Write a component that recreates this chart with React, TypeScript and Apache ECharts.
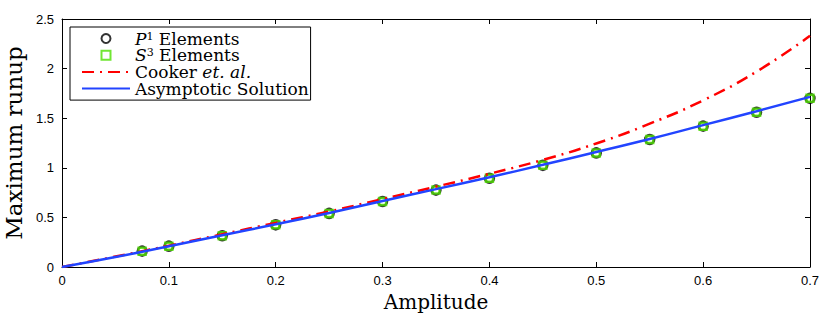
import React, { useEffect, useRef } from "react";
import * as echarts from "echarts";

const markerAmplitude = [0.075, 0.1, 0.15, 0.2, 0.25, 0.3, 0.35, 0.4, 0.45, 0.5, 0.55, 0.6, 0.65, 0.7];
const p1Runup = [0.16, 0.21, 0.315, 0.425, 0.54, 0.66, 0.775, 0.895, 1.025, 1.15, 1.285, 1.42, 1.56, 1.7];
const s3Runup = [0.16, 0.21, 0.315, 0.425, 0.54, 0.66, 0.775, 0.895, 1.025, 1.15, 1.285, 1.42, 1.56, 1.7];

const curveAmplitude = [0, 0.05, 0.1, 0.15, 0.2, 0.25, 0.3, 0.35, 0.4, 0.45, 0.5, 0.55, 0.6, 0.65, 0.7];
const cookerRunup = [0, 0.105, 0.215, 0.33, 0.445, 0.56, 0.685, 0.81, 0.94, 1.08, 1.245, 1.445, 1.68, 1.97, 2.33];
const asymptoticRunup = [0, 0.1, 0.21, 0.32, 0.43, 0.545, 0.665, 0.785, 0.905, 1.03, 1.16, 1.29, 1.43, 1.57, 1.715];

const seriesNames = ["P1 Elements", "S3 Elements", "Cooker et. al.", "Asymptotic Solution"];
const xTitle = "Amplitude";
const yTitle = "Maximum runup";

const zip = (xs: number[], ys: number[]) => xs.map((x, i) => [x, ys[i]]);

const SERIF = "DejaVu Serif";
const SANS = "Liberation Sans, Arial, sans-serif";
const SQUARE = "path://M0,0L10,0L10,10L0,10Z";

export default function App() {
  const ref = useRef<HTMLDivElement>(null);
  useEffect(() => {
    if (!ref.current) return;
    const chart = echarts.init(ref.current, null, { renderer: "svg" });
    const axisCommon = {
      type: "value" as const,
      axisLine: { show: true, onZero: false, lineStyle: { color: "#000", width: 1 } },
      axisTick: { show: true, inside: true, length: 5, lineStyle: { color: "#000", width: 1 } },
      splitLine: { show: false },
    };
    chart.setOption({
      animation: false,
      backgroundColor: "#fff",
      grid: { left: 62, right: 20, top: 19, bottom: 54, containLabel: false, outerBoundsMode: "none" },
      legend: {
        left: 70,
        top: 27,
        orient: "vertical",
        backgroundColor: "#fff",
        borderColor: "#000",
        borderWidth: 1,
        borderRadius: 0,
        padding: [3, 2, 3, 11],
        itemGap: -0.3,
        itemWidth: 48,
        itemHeight: 9,
        symbolKeepAspect: true,
        selectedMode: false,
        data: seriesNames,
        formatter: (name: string) => {
          if (name === seriesNames[0]) return "{it|P}{sup|1}{n| Elements}";
          if (name === seriesNames[1]) return "{it|S}{sup|3}{n| Elements}";
          if (name === seriesNames[2]) return "{n|Cooker}{it| et. al.}";
          return "{n|" + name + "}";
        },
        textStyle: {
          fontFamily: SERIF,
          fontSize: 17,
          color: "#000",
          lineHeight: 16,
          rich: {
            n: { fontFamily: SERIF, fontSize: 17, color: "#000", lineHeight: 16 },
            it: { fontFamily: SERIF, fontSize: 17, fontStyle: "italic", color: "#000", lineHeight: 16 },
            sup: { fontFamily: SERIF, fontSize: 11, color: "#000", lineHeight: 7, verticalAlign: "top" },
          },
        },
      },
      xAxis: [
        {
          ...axisCommon,
          min: 0,
          max: 0.7,
          interval: 0.1,
          position: "bottom",
          name: xTitle,
          nameLocation: "middle",
          nameGap: 25,
          nameTextStyle: { fontFamily: SERIF, fontSize: 20, color: "#000" },
          axisLabel: { color: "#000", fontFamily: SANS, fontSize: 13, margin: 7 },
        },
        {
          ...axisCommon,
          min: 0,
          max: 0.7,
          interval: 0.1,
          position: "top",
          axisLabel: { show: false },
        },
      ],
      yAxis: [
        {
          ...axisCommon,
          min: 0,
          max: 2.5,
          interval: 0.5,
          position: "left",
          name: yTitle,
          nameLocation: "middle",
          nameGap: 37,
          nameTextStyle: { fontFamily: SERIF, fontSize: 23, color: "#000" },
          axisLabel: { color: "#000", fontFamily: SANS, fontSize: 13, margin: 8 },
        },
        {
          ...axisCommon,
          min: 0,
          max: 2.5,
          interval: 0.5,
          position: "right",
          axisLabel: { show: false },
        },
      ],
      series: [
        {
          name: seriesNames[0],
          type: "scatter",
          symbol: "circle",
          symbolSize: 9,
          data: zip(markerAmplitude, p1Runup),
          itemStyle: { color: "rgba(0,0,0,0)", borderColor: "#000", borderWidth: 2.5 },
        },
        {
          name: seriesNames[1],
          type: "scatter",
          symbol: SQUARE,
          symbolKeepAspect: true,
          symbolSize: 7,
          data: zip(markerAmplitude, s3Runup),
          itemStyle: { color: "rgba(0,0,0,0)", borderColor: "#4ee000", borderWidth: 2.5 },
        },
        {
          name: seriesNames[2],
          type: "line",
          smooth: true,
          symbol: "none",
          data: zip(curveAmplitude, cookerRunup),
          itemStyle: { color: "#ff0000", opacity: 0 },
          lineStyle: { color: "#ff0000", width: 2.5, type: [12, 6, 2, 6] },
        },
        {
          name: seriesNames[3],
          type: "line",
          smooth: true,
          symbol: "none",
          data: zip(curveAmplitude, asymptoticRunup),
          itemStyle: { color: "#2244ff", opacity: 0 },
          lineStyle: { color: "#2244ff", width: 2.5 },
        },
      ],
    });
    return () => chart.dispose();
  }, []);
  return <div ref={ref} style={{ position: "absolute", left: 0, top: 0, width: 830, height: 321 }} />;
}
